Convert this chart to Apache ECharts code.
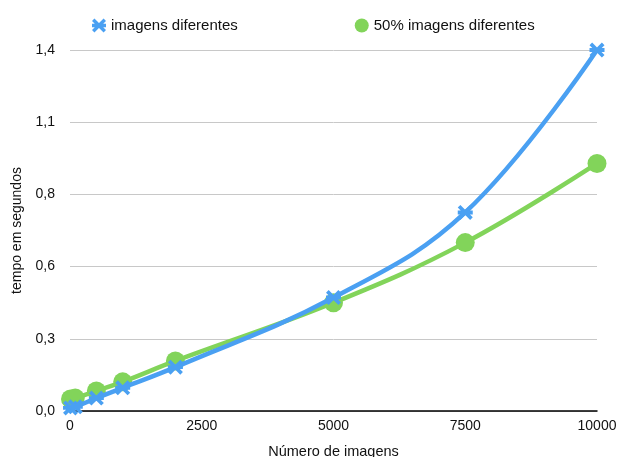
<!DOCTYPE html>
<html>
<head>
<meta charset="utf-8">
<script src="https://cdn.jsdelivr.net/npm/echarts@6/dist/echarts.min.js"></script>
<style>
  html, body { margin: 0; padding: 0; background: #fff; overflow: hidden; }
  #chart { width: 617px; height: 457px; }
</style>
</head>
<body>
<div id="chart"></div>
<script>
// Number of images processed
const imageCounts = [10, 100, 500, 1000, 2000, 5000, 7500, 10000];
// Time in seconds, all images different
const allDifferent = [0.012, 0.016, 0.05, 0.09, 0.17, 0.44, 0.77, 1.4];
// Time in seconds, 50% of images different
const halfDifferent = [0.047, 0.05, 0.078, 0.113, 0.194, 0.42, 0.653, 0.96];
// Axis ranges and tick steps
const yMin = 0, yMax = 1.4, yStep = 0.28;
const xMin = 0, xMax = 10000, xStep = 2500;

const seriesNames = ['imagens diferentes', '50% imagens diferentes'];
const blue = '#4aa0f2';
const green = '#82d45a';

// asterisk marker: horizontal bar plus two thick diagonals
const asterisk = 'path://M-10,-2.6 L10,-2.6 L10,2.6 L-10,2.6 Z ' +
  'M-6.5,-10 L10,6.5 L6.5,10 L-10,-6.5 Z ' +
  'M6.5,-10 L10,-6.5 L-6.5,10 L-10,6.5 Z';

const toPairs = (xs, ys) => xs.map((x, i) => [x, ys[i]]);

const chart = echarts.init(document.getElementById('chart'), null, { renderer: 'canvas' });
const font = 'Liberation Sans, Arial, Helvetica, sans-serif';

chart.setOption({
  animation: false,
  textStyle: { fontFamily: font },
  grid: {
    left: 70, right: 20, top: 50, bottom: 46,
    containLabel: false,
    outerBoundsMode: 'none'
  },
  legend: {
    data: [
      { name: seriesNames[0], icon: asterisk },
      { name: seriesNames[1], icon: 'circle' }
    ],
    top: 13,
    left: 87,
    itemWidth: 14,
    itemHeight: 14,
    itemGap: 117,
    textStyle: { fontSize: 15, color: '#111', fontFamily: font }
  },
  xAxis: {
    type: 'value',
    min: xMin, max: xMax, interval: xStep,
    name: 'Número de imagens',
    nameLocation: 'middle',
    nameGap: 33,
    nameTextStyle: { fontSize: 14.5, color: '#111', fontFamily: font },
    axisLine: { show: true, lineStyle: { color: '#000', width: 1.5 } },
    axisTick: { show: false },
    splitLine: { show: false },
    axisLabel: { fontSize: 14, color: '#111', margin: 8, formatter: v => String(v) }
  },
  yAxis: {
    type: 'value',
    min: yMin, max: yMax, interval: yStep,
    name: 'tempo em segundos',
    nameLocation: 'middle',
    nameGap: 38,
    nameTextStyle: { fontSize: 14, color: '#111', fontFamily: font },
    axisLine: { show: false },
    axisTick: { show: false },
    splitLine: { show: true, lineStyle: { color: '#c8c8c8', width: 1 } },
    axisLabel: {
      fontSize: 14, color: '#111', margin: 15,
      formatter: v => v.toFixed(1).replace('.', ',')
    }
  },
  series: [
    {
      name: seriesNames[1],
      type: 'line',
      smooth: 0.4,
      data: toPairs(imageCounts, halfDifferent),
      symbol: 'circle',
      symbolSize: 19,
      lineStyle: { color: green, width: 4.5 },
      itemStyle: { color: green },
      z: 2
    },
    {
      name: seriesNames[0],
      type: 'line',
      smooth: 0.4,
      data: toPairs(imageCounts, allDifferent),
      symbol: asterisk,
      symbolSize: 15,
      lineStyle: { color: blue, width: 4.5 },
      itemStyle: { color: blue },
      z: 3
    }
  ]
});
</script>
</body>
</html>
